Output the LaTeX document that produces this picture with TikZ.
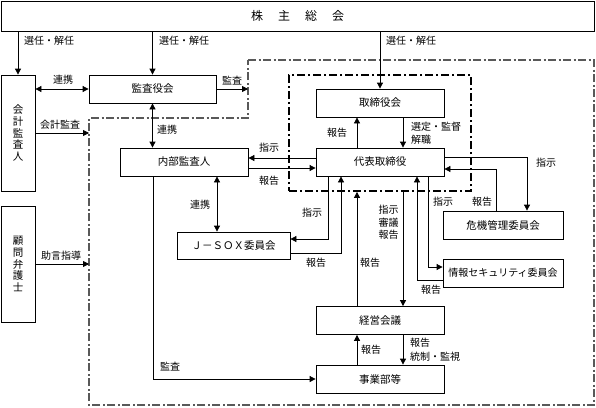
\documentclass[tikz,border=0pt]{standalone}
\usepackage{fontspec}
\setmainfont{Noto Sans CJK JP}
\usetikzlibrary{arrows.meta,calc}
\tikzset{
  box/.style={draw=black, line width=0.8pt, minimum width=128pt, minimum height=28pt, inner sep=0pt, font=\fontsize{10.5}{12}\selectfont},
  vbox/.style={draw=black, line width=0.8pt, minimum width=34pt, minimum height=116pt, inner sep=0pt, align=center, font=\fontsize{10.5}{11.6}\selectfont},
  lbl/.style={inner sep=0pt, font=\fontsize{10}{12}\selectfont},
  arr/.style={line width=0.8pt, -{Triangle[length=6pt,width=6pt]}},
  darr/.style={line width=0.8pt, {Triangle[length=6pt,width=6pt]}-{Triangle[length=6pt,width=6pt]}},
  outerline/.style={line width=1.2pt, draw=black!65, dash pattern=on 8pt off 2.5pt on 2pt off 2.5pt},
  boardline/.style={draw=black, line width=1.8pt, dash pattern=on 8pt off 3pt on 2pt off 3pt, minimum width=182pt, minimum height=116pt, inner sep=0pt}
}
\begin{document}
\begin{tikzpicture}[x=1pt,y=-1pt]
\useasboundingbox (0,0) rectangle (596,407);
\fill[white] (0,0) rectangle (596,407);

% outer dash-dot region
\coordinate (o1) at (248,60);
\coordinate (o2) at (594,60);
\coordinate (o3) at (594,405);
\coordinate (o4) at (89,405);
\coordinate (o5) at (89,118);
\coordinate (o6) at (248,118);
\draw[outerline] (o1) -- (o2) -- (o3) -- (o4) -- (o5) -- (o6) -- cycle;
\coordinate (oA) at (248,89);

% board group
\node[boardline] (board) at (380,133) {};

% nodes
\node[box, minimum width=593pt, minimum height=30pt, font=\fontsize{12}{14}\selectfont] (gm) at (297.5,16) {株\hspace{15pt}主\hspace{15pt}総\hspace{15pt}会};
\node[vbox] (kaikei) at (18,133) {会\\計\\監\\査\\人};
\node[vbox] (komon) at (18,264) {顧\\問\\弁\\護\\士};
\node[box, minimum width=127pt] (kansa) at (152.5,89) {監査役会};
\node[box] (tori) at (380,103) {取締役会};
\node[box] (daihyo) at (380,162) {代表取締役};
\node[box] (naibu) at (184,162) {内部監査人};
\node[box, minimum width=113pt, minimum height=27pt] (jsox) at (233.5,245.5) {Ｊ－ＳＯＸ委員会};
\node[box, minimum width=120pt] (kiki) at (503,225) {危機管理委員会};
\node[box, minimum width=120pt, font=\fontsize{10}{12}\selectfont] (joho) at (503,273) {情報セキュリティ委員会};
\node[box] (keiei) at (380,320.5) {経営会議};
\node[box] (jigyo) at (380,379) {事業部等};

% connectors
\draw[arr] (kaikei.north |- gm.south) -- (kaikei.north);
\draw[arr] (kansa.north |- gm.south) -- (kansa.north);
\draw[arr] (tori.north |- gm.south) -- (tori.north);
\draw[darr] (kaikei.east |- kansa.west) -- (kansa.west);
\draw[arr] (kansa.east) -- (oA);
\draw[arr] (kaikei.east) -- (kaikei.east -| o5);
\draw[arr] (komon.east) -- (komon.east -| o5);
\draw[darr] (kansa.south) -- (kansa.south |- naibu.north);
\draw[arr] ([yshift=4pt]daihyo.west) -- ([yshift=4pt]daihyo.west -| naibu.east);
\draw[arr] ([yshift=-6pt]naibu.east) -- ([yshift=-6pt]naibu.east -| daihyo.west);
\draw[arr] ([xshift=-23pt]daihyo.north) -- ([xshift=-23pt]tori.south);
\draw[arr] ([xshift=23pt]tori.south) -- ([xshift=23pt]daihyo.north);
\draw[darr] ([xshift=33pt]naibu.south) -- ([xshift=33pt]naibu.south |- jsox.north);
\draw[arr] ([xshift=-52pt]daihyo.south) |- ([yshift=6.5pt]jsox.east);
\draw[arr] ([yshift=-7.5pt]jsox.east) -| ([xshift=-39pt]daihyo.south);
\draw[arr] ([xshift=-23pt]keiei.north) -- ([xshift=-23pt]keiei.north |- board.south);
\draw[arr] ([xshift=23pt]keiei.north |- board.south) -- ([xshift=23pt]keiei.north);
\draw[arr] ([yshift=5pt]daihyo.east) -| ([xshift=24pt]kiki.north);
\draw[arr] ([xshift=-7pt]kiki.north) |- ([yshift=-7pt]daihyo.east);
\draw[arr] ([xshift=48pt]daihyo.south) |- ([yshift=6pt]joho.west);
\draw[arr] ([yshift=-7pt]joho.west) -| ([xshift=37pt]daihyo.south);
\draw[arr] ([xshift=-23pt]jigyo.north) -- ([xshift=-23pt]keiei.south);
\draw[arr] ([xshift=23pt]keiei.south) -- ([xshift=23pt]jigyo.north);
\draw[arr] ([xshift=-31pt]naibu.south) |- (jigyo.west);

% labels
\node[lbl, anchor=west] (l1) at (24,41) {選任・解任};
\node[lbl, anchor=west] (l2) at (159,41) {選任・解任};
\node[lbl, anchor=west] (l3) at (386,41) {選任・解任};
\node[lbl] (l4) at (63,80) {連携};
\node[lbl] (l5) at (232,81) {監査};
\node[lbl] (l6) at (60,125) {会計監査};
\node[lbl] (l7) at (61,256) {助言指導};
\node[lbl, anchor=west] (l8) at (157,130) {連携};
\node[lbl] (l9) at (269,148) {指示};
\node[lbl] (l10) at (269,181) {報告};
\node[lbl] (l11) at (337,133) {報告};
\node[lbl, anchor=west, align=left, font=\fontsize{10}{13}\selectfont] (l12) at (411,133.5) {選定・監督\\解職};
\node[lbl] (l13) at (200,205) {連携};
\node[lbl] (l14) at (312,213) {指示};
\node[lbl] (l15) at (316,263) {報告};
\node[lbl] (l16) at (370,263) {報告};
\node[lbl, align=center, font=\fontsize{10}{12.5}\selectfont] (l17) at (388.5,222.5) {指示\\審議\\報告};
\node[lbl] (l18) at (546,163) {指示};
\node[lbl] (l19) at (482,202) {報告};
\node[lbl] (l20) at (443,202) {指示};
\node[lbl] (l21) at (431,290) {報告};
\node[lbl] (l22) at (371,350) {報告};
\node[lbl, anchor=west, align=left, font=\fontsize{10}{14}\selectfont] (l23) at (410,349.5) {報告\\統制・監視};
\node[lbl] (l24) at (170,367) {監査};
\end{tikzpicture}
\end{document}
